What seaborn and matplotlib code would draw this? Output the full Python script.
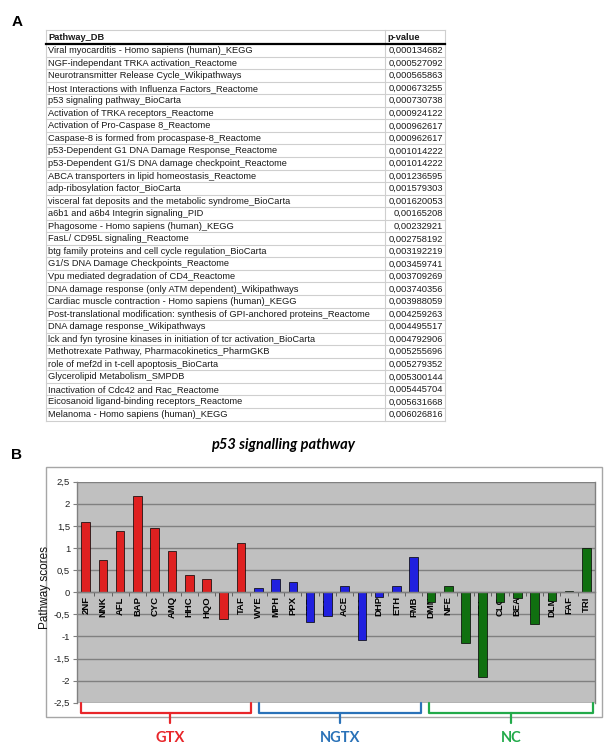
import numpy as np
import pandas as pd
import matplotlib
matplotlib.use("Agg")
import matplotlib.pyplot as plt
import seaborn as sns
from matplotlib.patches import Rectangle
from matplotlib.ticker import FuncFormatter

# ---------------- data ----------------
pathways = [
    "Viral myocarditis - Homo sapiens (human)_KEGG",
    "NGF-independant TRKA activation_Reactome",
    "Neurotransmitter Release Cycle_Wikipathways",
    "Host Interactions with Influenza Factors_Reactome",
    "p53 signaling pathway_BioCarta",
    "Activation of TRKA receptors_Reactome",
    "Activation of Pro-Caspase 8_Reactome",
    "Caspase-8 is formed from procaspase-8_Reactome",
    "p53-Dependent G1 DNA Damage Response_Reactome",
    "p53-Dependent G1/S DNA damage checkpoint_Reactome",
    "ABCA transporters in lipid homeostasis_Reactome",
    "adp-ribosylation factor_BioCarta",
    "visceral fat deposits and the metabolic syndrome_BioCarta",
    "a6b1 and a6b4 Integrin signaling_PID",
    "Phagosome - Homo sapiens (human)_KEGG",
    "FasL/ CD95L signaling_Reactome",
    "btg family proteins and cell cycle regulation_BioCarta",
    "G1/S DNA Damage Checkpoints_Reactome",
    "Vpu mediated degradation of CD4_Reactome",
    "DNA damage response (only ATM dependent)_Wikipathways",
    "Cardiac muscle contraction - Homo sapiens (human)_KEGG",
    "Post-translational modification: synthesis of GPI-anchored proteins_Reactome",
    "DNA damage response_Wikipathways",
    "lck and fyn tyrosine kinases in initiation of tcr activation_BioCarta",
    "Methotrexate Pathway, Pharmacokinetics_PharmGKB",
    "role of mef2d in t-cell apoptosis_BioCarta",
    "Glycerolipid Metabolism_SMPDB",
    "Inactivation of Cdc42 and Rac_Reactome",
    "Eicosanoid ligand-binding receptors_Reactome",
    "Melanoma - Homo sapiens (human)_KEGG",
]
pvalues = [
    "0,000134682", "0,000527092", "0,000565863", "0,000673255", "0,000730738",
    "0,000924122", "0,000962617", "0,000962617", "0,001014222", "0,001014222",
    "0,001236595", "0,001579303", "0,001620053", "0,00165208", "0,00232921",
    "0,002758192", "0,003192219", "0,003459741", "0,003709269", "0,003740356",
    "0,003988059", "0,004259263", "0,004495517", "0,004792906", "0,005255696",
    "0,005279352", "0,005300144", "0,005445704", "0,005631668", "0,006026816",
]

compounds = ["2NF", "NNK", "AFL", "BAP", "CYC", "AMQ", "HHC", "HQO", "NMP", "TAF",
             "WYE", "MPH", "PPX", "SPB", "TPA", "ACE", "CSA", "DHP", "ETH", "FMB",
             "DMN", "NFE", "DIC", "TOL", "CLO", "BEA", "BEN", "DLM", "FAF", "TRI"]
scores = [1.58, 0.72, 1.39, 2.18, 1.45, 0.94, 0.40, 0.29, -0.61, 1.12,
          0.10, 0.30, 0.23, -0.68, -0.54, 0.13, -1.09, -0.11, 0.14, 0.80,
          -0.22, 0.13, -1.14, -1.91, -0.22, -0.13, -0.72, -0.21, 0.02, 1.00]
groups = ["GTX"] * 10 + ["NGTX"] * 10 + ["NC"] * 10
group_names = ["GTX", "NGTX", "NC"]
bar_colors = {"GTX": "#FF0000", "NGTX": "#0000FF", "NC": "#008000"}
bracket_colors = {"GTX": "#E8262A", "NGTX": "#2A72B8", "NC": "#22AA4A"}
y_ticks = [-2.5, -2, -1.5, -1, -0.5, 0, 0.5, 1, 1.5, 2, 2.5]

df = pd.DataFrame({"compound": compounds, "score": scores, "group": groups})

plt.rcParams['font.family'] = ['Liberation Sans', 'DejaVu Sans']

W, H = 609, 754
fig = plt.figure(figsize=(W / 100, H / 100), dpi=100)
fig.patch.set_facecolor("white")

# overlay axes in pixel coordinates
ov = fig.add_axes([0, 0, 1, 1])
ov.set_xlim(0, W)
ov.set_ylim(H, 0)
ov.axis("off")

ov.text(17, 22, "A", fontsize=11, fontweight="bold", ha="center", va="center")
ov.text(17, 455, "B", fontsize=11, fontweight="bold", ha="center", va="center")

# ---------------- table (panel A) ----------------
L, M, R = 46, 385, 445
top, hb, rh = 30, 44, 12.55
n = len(pathways)
gcol = "#CFCFCF"
tcol = "#1a1a1a"
ov.plot([L, R], [top, top], color=gcol, lw=0.8)
for i in range(1, n + 1):
    y = hb + rh * i
    ov.plot([L, R], [y, y], color=gcol, lw=0.8)
for x in (L, M, R):
    ov.plot([x, x], [top, hb + rh * n], color=gcol, lw=0.8)
ov.plot([L, R], [hb, hb], color="black", lw=1.6)
ov.text(L + 2.5, (top + hb) / 2 + 0.5, "Pathway_DB", fontsize=6.7, fontweight="bold",
        va="center", color=tcol)
ov.text(M + 2.5, (top + hb) / 2 + 0.5, "p-value", fontsize=6.7, fontweight="bold",
        va="center", color=tcol)
for i, (p, v) in enumerate(zip(pathways, pvalues)):
    yc = hb + rh * (i + 0.5) + 0.3
    ov.text(L + 2.5, yc, p, fontsize=6.7, va="center", color=tcol)
    ov.text(R - 2, yc, v, fontsize=6.7, va="center", ha="right", color=tcol)

# ---------------- chart (panel B) ----------------
ov.add_patch(Rectangle((45.7, 466.7), 601.7 - 45.7, 716.7 - 466.7, fill=False,
                       ec="#A6A6A6", lw=1))
ov.text(283, 445, "p53 signalling pathway", fontsize=10.5, fontweight="bold",
        fontstyle="italic", family=["Lato", "DejaVu Sans"], ha="center", va="center")

px0, px1, py0, py1 = 77, 595, 481.7, 702.7
ax = fig.add_axes([px0 / W, 1 - py1 / H, (px1 - px0) / W, (py1 - py0) / H])
ax.set_facecolor("#C0C0C0")

for yv in y_ticks:
    ax.axhline(yv, color="#808080", lw=1, zorder=0.8)

sns.barplot(data=df, x="compound", y="score", hue="group", order=compounds,
            hue_order=group_names, palette=bar_colors, dodge=False, width=0.5,
            edgecolor="black", linewidth=0.5, legend=False, ax=ax, zorder=2)

ax.set_xlim(-0.5, len(compounds) - 0.5)
ax.set_ylim(-2.5, 2.5)
ax.set_yticks(y_ticks)
ax.yaxis.set_major_formatter(FuncFormatter(lambda v, _: f"{v:g}".replace(".", ",")))
ax.tick_params(axis="y", labelsize=6.8, length=3, color="#808080", pad=2, labelcolor="#222222")

ax.spines["bottom"].set_position(("data", 0))
ax.set_xticks(range(len(compounds)))
ax.set_xticklabels(compounds, rotation=90, fontsize=6.8, fontweight="bold")
ax.tick_params(axis="x", which="major", length=0, pad=3)
ax.set_xticks(np.arange(-0.5, len(compounds), 1), minor=True)
ax.tick_params(axis="x", which="minor", length=3, color="#505050", direction="out")
ax.set_xlabel("")

for s in ("left", "bottom", "right"):
    ax.spines[s].set_color("#808080")
    ax.spines[s].set_linewidth(1)
ax.spines["top"].set_visible(False)

ax.set_ylabel("Pathway scores", fontsize=8.5, color="#111111")
ax.yaxis.set_label_coords(-0.05, 0.52)

# group brackets
brackets = {"GTX": (-0.25, 9.6, 4.9), "NGTX": (10.04, 19.4, 14.73), "NC": (19.88, 29.36, 24.63)}
for g in group_names:
    x0, x1, xc = brackets[g]
    c = bracket_colors[g]
    ax.plot([x0, x0, x1, x1], [-2.5, -2.73, -2.73, -2.5], color=c, lw=1.6,
            clip_on=False, solid_joinstyle="round", solid_capstyle="round", zorder=5)
    ax.plot([xc, xc], [-2.73, -2.96], color=c, lw=1.6, clip_on=False,
            solid_capstyle="round", zorder=5)
    ax.text(xc, -3.3, g, color=c, fontsize=10.5, fontweight="bold",
            family=["Lato", "DejaVu Sans"], ha="center", va="center", clip_on=False)

fig.savefig("out.png", dpi=100)
